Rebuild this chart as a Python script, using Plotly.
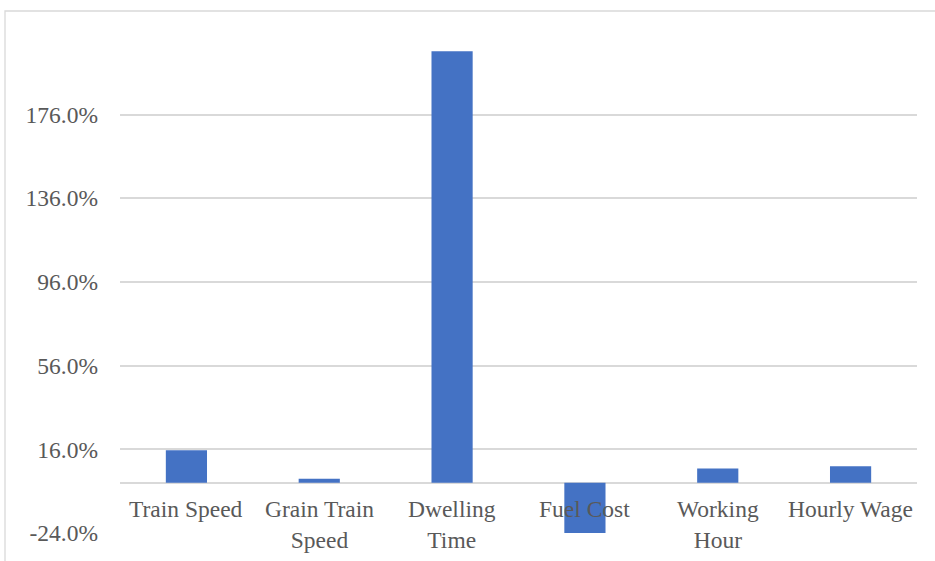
import plotly.graph_objects as go

# Percentage change by factor
categories = ["Train Speed", "Grain Train Speed", "Dwelling Time", "Fuel Cost", "Working Hour", "Hourly Wage"]
label_text = ["Train Speed", "Grain Train<br>Speed", "Dwelling<br>Time", "Fuel Cost", "Working<br>Hour", "Hourly Wage"]
changes = [0.156, 0.019, 2.062, -0.243, 0.068, 0.079]
tick_values = [-0.24, 0.16, 0.56, 0.96, 1.36, 1.76]
tick_labels = ["-24.0%", "16.0%", "56.0%", "96.0%", "136.0%", "176.0%"]

W, H = 935, 561
L, R, T, B = 120, 18, 35, 28
grid = "#d9d9d9"
text_color = "#595959"
serif = "Liberation Serif, Times New Roman, serif"

fig = go.Figure(
    go.Bar(
        x=categories,
        y=changes,
        marker=dict(color="#4472C4", line=dict(width=0)),
        width=0.31,
    )
)

# category labels sit just below the zero line
for cat, lab in zip(categories, label_text):
    fig.add_annotation(
        x=cat, y=0, xref="x", yref="y", text=lab, showarrow=False,
        yanchor="top", yshift=-11,
        font=dict(family=serif, size=23.5, color=text_color),
    )

# outer chart border
pw, ph = W - L - R, H - T - B
fig.add_shape(
    type="rect", xref="paper", yref="paper",
    x0=(5 - L) / pw, x1=(W + 10 - L) / pw,
    y0=-(B + 10) / ph, y1=(H - B - 11) / ph,
    line=dict(color=grid, width=1.3), fillcolor="rgba(0,0,0,0)", layer="below",
)

fig.update_layout(
    width=W, height=H,
    margin=dict(l=L, r=R, t=T, b=B),
    paper_bgcolor="white", plot_bgcolor="white",
    showlegend=False,
    xaxis=dict(showticklabels=False, showgrid=False, showline=False, ticks=""),
    yaxis=dict(
        range=[-0.24, 2.14],
        tickvals=tick_values,
        ticktext=tick_labels,
        showgrid=True, gridcolor=grid, gridwidth=1.7,
        zeroline=True, zerolinecolor=grid, zerolinewidth=1.7,
        showline=False, ticks="", ticklabelstandoff=21,
        tickfont=dict(family=serif, size=23.5, color=text_color),
    ),
)

fig.write_html("out.html")
